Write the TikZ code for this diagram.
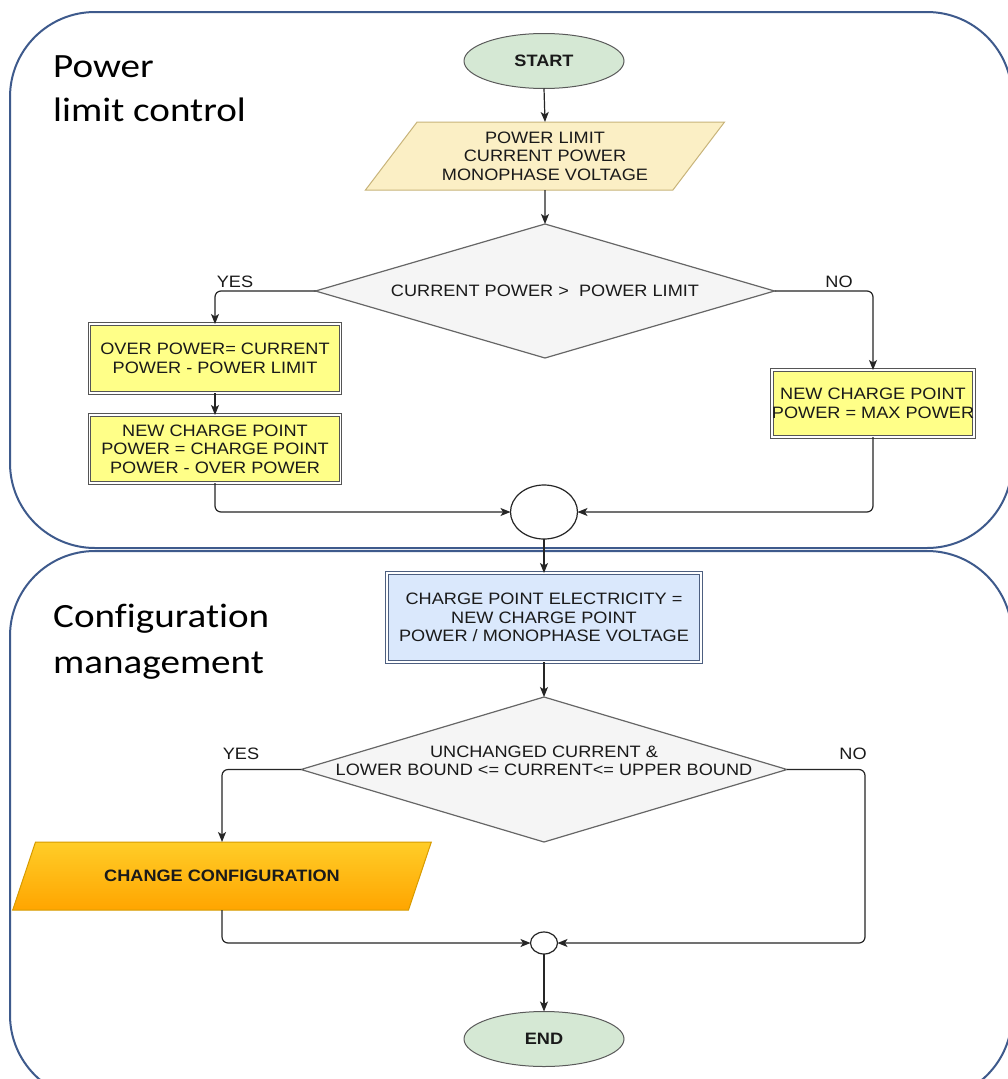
\documentclass[tikz,border=0pt]{standalone}
\usepackage{fontspec}
\setmainfont{Liberation Sans}[FakeStretch=1.1]
\newfontfamily\secfont{Carlito}[FakeStretch=1.15,Ligatures=NoCommon]
\usetikzlibrary{shapes.geometric,arrows.meta}
\definecolor{cont}{HTML}{3E5A8C}
\definecolor{termfill}{HTML}{D5E8D4}
\definecolor{termdraw}{HTML}{5A5A5A}
\definecolor{inpfill}{HTML}{FBEFC5}
\definecolor{inpdraw}{HTML}{C8B47A}
\definecolor{decfill}{HTML}{F5F5F5}
\definecolor{decdraw}{HTML}{666666}
\definecolor{yelfill}{HTML}{FFFF88}
\definecolor{yeldraw}{HTML}{555555}
\definecolor{blufill}{HTML}{DAE8FC}
\definecolor{bludraw}{HTML}{4D5F80}
\definecolor{orgtop}{HTML}{FFCD28}
\definecolor{orgbot}{HTML}{FFA500}
\definecolor{orgdraw}{HTML}{D79B00}
\definecolor{txt}{HTML}{1A1A1A}
\tikzset{
  flow/.style={font=\fontsize{16.5}{18.5}\selectfont, text=txt, align=center, inner sep=0pt, outer sep=0pt},
  term/.style={flow, ellipse, draw=termdraw, line width=1pt, fill=termfill,
    minimum width=160pt, minimum height=55pt, font=\fontsize{16.5}{18.5}\selectfont\bfseries},
  inp/.style={flow, trapezium, trapezium stretches=true, draw=inpdraw, line width=1pt, fill=inpfill},
  dec/.style={flow, diamond, draw=decdraw, line width=1.2pt, fill=decfill},
  proc/.style={flow, rectangle, draw=yeldraw, line width=1.1pt, double=white, double distance=1.6pt, fill=yelfill},
  bproc/.style={flow, rectangle, draw=bludraw, line width=1.1pt, double=white, double distance=1.6pt, fill=blufill},
  junc/.style={ellipse, draw=black!85, line width=1.2pt, fill=white, inner sep=0pt, outer sep=0pt},
  conn/.style={draw=black!85, line width=1.2pt, rounded corners=6pt, -{Stealth[length=10pt,width=8pt,inset=2.5pt]}},
  lab/.style={flow},
  sec/.style={font=\secfont\fontsize{34}{40}\selectfont, text=black, inner sep=0pt, anchor=base west},
  container/.style={draw=cont, line width=2pt, rounded corners=85pt}
}
\begin{document}
\begin{tikzpicture}[x=1pt,y=-1pt]
\useasboundingbox (0,0) rectangle (1008,1079);
\clip (0,0) rectangle (1008,1079);
\fill[white] (0,0) rectangle (1008,1079);

% containers
\draw[container] (10,12) rectangle (1012,548);
\draw[container] (10,551) rectangle (1012,1100);

% section labels
\node[sec] (s1a) at (53,77) {Power};
\node[sec] (s1b) at (53,121) {limit control};
\node[sec] (s2a) at (53,627) {Configuration};
\node[sec] (s2b) at (53,673) {management};

% top section
\node[term] (start) at (544,61) {START};
\node[inp, trapezium left angle=49.5, trapezium right angle=130.5,
      minimum width=360pt, minimum height=68pt] (par1) at (545,156)
      {POWER LIMIT\\CURRENT POWER\\MONOPHASE VOLTAGE};
\node[dec, aspect=3.4, minimum width=459pt, minimum height=134pt] (d1) at (545,291)
      {CURRENT POWER > \ POWER LIMIT};
\node[proc, minimum width=251pt, minimum height=69pt] (b1) at (215,358.5)
      {OVER POWER= CURRENT\\POWER - POWER LIMIT};
\node[proc, minimum width=251pt, minimum height=68pt] (b2) at (215,449)
      {NEW CHARGE POINT\\POWER = CHARGE POINT\\POWER - OVER POWER};
\node[proc, minimum width=196pt, minimum height=67pt] (b3) at (873,403.5)
      {NEW CHARGE POINT\\POWER = MAX POWER};
\node[junc, minimum width=67pt, minimum height=54pt] (c1) at (544,512) {};

\node[lab] (yes1) at (235,282) {YES};
\node[lab] (no1) at (839,282) {NO};

\draw[conn] (start.south) -- (par1.north);
\draw[conn] (par1.south) -- (d1.north);
\draw[conn] (d1.west) -| (b1.north);
\draw[conn] (d1.east) -| (b3.north);
\draw[conn] (b1.south) -- (b2.north);
\draw[conn] (b2.south) |- (c1.west);
\draw[conn] (b3.south) |- (c1.east);

% bottom section
\node[bproc, minimum width=314pt, minimum height=89pt] (blue) at (544,617.5)
      {CHARGE POINT ELECTRICITY =\\NEW CHARGE POINT\\POWER / MONOPHASE VOLTAGE};
\node[dec, minimum width=486pt, minimum height=145pt] (d2) at (544,769.5) {};
\node[flow] (d2t) at (544,761)
      {UNCHANGED CURRENT \&\\LOWER BOUND <= CURRENT<= UPPER BOUND};
\node[inp, draw=orgdraw, top color=orgtop, bottom color=orgbot,
      trapezium left angle=39, trapezium right angle=141,
      minimum width=420pt, minimum height=68pt,
      font=\fontsize{16.5}{18.5}\selectfont\bfseries] (par2) at (222,876)
      {CHANGE CONFIGURATION};
\node[junc, minimum width=27pt, minimum height=22pt] (c2) at (544,943) {};
\node[term] (end) at (544,1039) {END};
\coordinate (nr) at (865,769.5);

\node[lab] (yes2) at (241,754) {YES};
\node[lab] (no2) at (853,754) {NO};

\draw[conn] (c1.south) -- (blue.north);
\draw[conn] (blue.south) -- (d2.north);
\draw[conn] (d2.west) -| (par2.north);
\draw[conn] (d2.east) -- (nr) |- (c2.east);
\draw[conn] (par2.south) |- (c2.west);
\draw[conn] (c2.south) -- (end.north);
\end{tikzpicture}
\end{document}
